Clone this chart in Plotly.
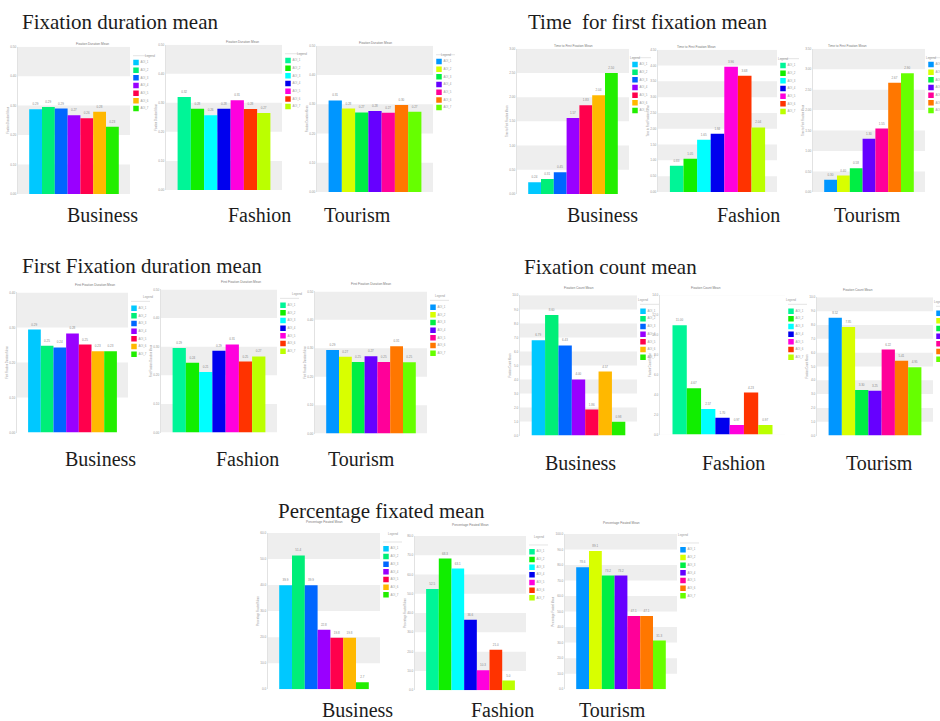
import plotly.graph_objects as go

W, H = 940, 721

# ---------------------------------------------------------------- data
categories = ["Business", "Fashion", "Tourism"]
series_names = ["AOI_1", "AOI_2", "AOI_3", "AOI_4", "AOI_5", "AOI_6", "AOI_7"]

colors_business = ["#00C8FF", "#00EE78", "#0066FF", "#9900FF", "#FF004C", "#FFB800", "#22EE00"]
colors_fashion = ["#00F597", "#11EE00", "#00FFFF", "#0000EE", "#FF00DD", "#FF3300", "#BBFF00"]
colors_tourism = ["#0096FF", "#D8FF00", "#00EE44", "#6600FF", "#FF0099", "#FF7700", "#66FF00"]

metric_titles = [
    "Fixation duration mean",
    "Time\u00a0 for first fixation mean",
    "First Fixation duration mean",
    "Fixation count mean",
    "Percentage fixated mean",
]
chart_titles = [
    "Fixation Duration Mean",
    "Time to First Fixation Mean",
    "First Fixation Duration Mean",
    "Fixation Count Mean",
    "Percentage Fixated Mean",
]

fix_dur_business = [0.288, 0.295, 0.290, 0.267, 0.257, 0.279, 0.228]
fix_dur_fashion = [0.320, 0.280, 0.257, 0.280, 0.309, 0.279, 0.265]
fix_dur_tourism = [0.313, 0.285, 0.272, 0.277, 0.271, 0.297, 0.274]

ttff_business = [0.24, 0.31, 0.45, 1.57, 1.83, 2.04, 2.50]
ttff_fashion = [0.83, 1.05, 1.65, 1.84, 3.96, 3.68, 2.04]
ttff_tourism = [0.30, 0.40, 0.58, 1.30, 1.55, 2.67, 2.90]

ffd_business = [0.294, 0.248, 0.243, 0.283, 0.251, 0.232, 0.232]
ffd_fashion = [0.295, 0.244, 0.212, 0.286, 0.308, 0.248, 0.266]
ffd_tourism = [0.294, 0.270, 0.252, 0.272, 0.252, 0.307, 0.251]

count_business = [6.79, 8.60, 6.43, 4.00, 1.86, 4.57, 0.98]
count_fashion = [11.00, 4.67, 2.57, 1.70, 0.97, 4.23, 0.97]
count_tourism = [8.52, 7.85, 3.30, 3.25, 6.22, 5.41, 4.95]

pct_business = [39.9, 51.4, 39.9, 22.8, 19.8, 19.8, 2.7]
pct_fashion = [52.5, 68.3, 63.1, 36.6, 10.3, 21.0, 5.0]
pct_tourism = [78.6, 89.1, 73.2, 73.2, 47.1, 47.1, 31.3]

# y-axis extent and tick step for each category
fix_dur_ymax = [0.5, 0.5, 0.5]
fix_dur_step = [0.1, 0.1, 0.1]
ttff_ymax = [3.0, 4.5, 3.5]
ttff_step = [0.5, 0.5, 0.5]
ffd_ymax = [0.4, 0.5, 0.5]
ffd_step = [0.1, 0.1, 0.1]
count_ymax = [10, 14, 10]
count_step = [1, 2, 1]
pct_ymax = [60, 80, 100]
pct_step = [10, 10, 10]

metric_values = [
    [fix_dur_business, fix_dur_fashion, fix_dur_tourism],
    [ttff_business, ttff_fashion, ttff_tourism],
    [ffd_business, ffd_fashion, ffd_tourism],
    [count_business, count_fashion, count_tourism],
    [pct_business, pct_fashion, pct_tourism],
]
metric_ymax = [fix_dur_ymax, ttff_ymax, ffd_ymax, count_ymax, pct_ymax]
metric_step = [fix_dur_step, ttff_step, ffd_step, count_step, pct_step]
metric_fmt = ["{:.2f}", "{:.2f}", "{:.2f}", "{:.2f}", "{:.1f}"]
category_colors = [colors_business, colors_fashion, colors_tourism]

# ---------------------------------------------------------------- layout (pixels)
# plot box of each small chart: (left, right, top, bottom)
boxes = [
    [(18, 130, 45, 193), (166, 282, 43, 189), (317, 433, 44, 191)],
    [(517, 629, 47, 193), (658, 777, 48, 191), (813, 925, 47, 191)],
    [(17, 128, 292, 433), (161, 277, 289, 433), (315, 427, 291, 434)],
    [(520, 637, 295, 436), (660, 785, 295, 435), (817, 933, 297, 436)],
    [(268, 380, 534, 691), (415, 526, 537, 692), (565, 677, 535, 691)],
]
# heading of each block (left x, centre y) and category captions (centre x, centre y)
headings = [(20, 20), (526, 20), (20, 265), (522, 266), (276, 512)]
captions = [
    [(102, 214), (259, 214), (357, 214)],
    [(602, 214), (748, 214), (867, 214)],
    [(100, 460), (247, 460), (361, 460)],
    [(580, 464), (733, 464), (879, 464)],
    [(357, 712), (503, 712), (612, 712)],
]


def fx(px):
    return px / W


def fy(py):
    return 1 - py / H


SMALL = "Liberation Sans"
SERIF = "Liberation Serif"
BAND = "#EEEEEE"

fig = go.Figure()
shapes, annotations, axes = [], [], {}

n = 0
for g in range(5):
    for c, cat in enumerate(categories):
        n += 1
        ka, kl = 2 * n - 1, 2 * n
        sa = "" if ka == 1 else str(ka)
        sl = str(kl)
        x0, x1, top, bot = boxes[g][c]
        vals = metric_values[g][c]
        cols = category_colors[c]
        ymax = metric_ymax[g][c]
        step = metric_step[g][c]
        nint = int(round(ymax / step))
        ticks = [round(i * step, 4) for i in range(nint + 1)]
        ticktext = [f"{t:.2f}" if step < 1 else f"{t:.1f}" for t in ticks]

        # bars: one trace per series, grouped in a single category
        for j in range(7):
            fig.add_trace(go.Bar(
                x=[cat], y=[vals[j]], name=series_names[j],
                marker=dict(color=cols[j], line=dict(width=0)),
                text=[metric_fmt[g].format(vals[j])], textposition="outside",
                textfont=dict(size=3, color="#8a8a8a", family=SMALL),
                cliponaxis=False, showlegend=False,
                xaxis="x" + sa, yaxis="y" + sa,
            ))

        axes["xaxis" + sa] = dict(
            domain=[fx(x0), fx(x1)], anchor="y" + sa,
            showticklabels=False, showgrid=False, zeroline=False, showline=False,
            fixedrange=True,
        )
        axes["yaxis" + sa] = dict(
            domain=[fy(bot), fy(top)], anchor="x" + sa, range=[0, ymax],
            tickvals=ticks, ticktext=ticktext,
            tickfont=dict(size=3.2, color="#9a9a9a", family=SMALL),
            showgrid=False, zeroline=False, showline=True,
            linecolor="#E2E2E2", linewidth=1, ticks="",
            title=dict(text=chart_titles[g], font=dict(size=2.6, color="#9a9a9a", family=SMALL),
                       standoff=1),
            fixedrange=True,
        )

        # alternating horizontal bands, grey from the top interval down
        for i in range(nint):
            if i % 2 == 0:
                shapes.append(dict(
                    type="rect", xref=f"x{sa} domain", yref="y" + sa,
                    x0=0, x1=1, y0=ticks[nint - i - 1], y1=ticks[nint - i],
                    fillcolor=BAND, line=dict(width=0), layer="below",
                ))

        # small chart title
        annotations.append(dict(
            x=fx((x0 + x1) / 2), y=fy(top - 7), xref="paper", yref="paper",
            text=chart_titles[g], showarrow=False,
            font=dict(size=3.2, color="#777777", family=SMALL),
        ))

        # legend: coloured squares with series names
        lx0 = x1 + 2
        lx1 = x1 + 26
        xr0 = -1.0
        xr1 = xr0 + (lx1 - lx0) / 4.0
        if lx1 > W:
            xr1 = xr0 + (W - lx0) / 4.0
            lx1 = W
        axes["xaxis" + sl] = dict(domain=[fx(lx0), fx(lx1)], range=[xr0, xr1],
                                  visible=False, anchor="y" + sl, fixedrange=True)
        axes["yaxis" + sl] = dict(domain=[fy(top + 66), fy(top + 12)], range=[6.5, -0.5],
                                  visible=False, anchor="x" + sl, fixedrange=True)
        fig.add_trace(go.Scatter(
            x=[0] * len(series_names), y=list(range(len(series_names))),
            mode="markers+text", text=series_names, textposition="middle right",
            textfont=dict(size=2.8, color="#9a9a9a", family=SMALL),
            marker=dict(symbol="square", size=5.5, color=cols, line=dict(width=0)),
            showlegend=False, xaxis="x" + sl, yaxis="y" + sl, cliponaxis=True,
        ))
        annotations.append(dict(
            x=fx(x1 + 13), y=fy(top + 5), xref="paper", yref="paper",
            text="Legend", showarrow=False,
            font=dict(size=3, color="#9a9a9a", family=SMALL),
        ))
        shapes.append(dict(
            type="line", xref="paper", yref="paper",
            x0=fx(x1 + 3), x1=fx(x1 + 22), y0=fy(top + 9), y1=fy(top + 9),
            line=dict(color="#DDDDDD", width=0.8),
        ))

        # category caption under the chart
        cx, cy = captions[g][c]
        annotations.append(dict(
            x=fx(cx), y=fy(cy), xref="paper", yref="paper", text=cat,
            showarrow=False, xanchor="center", yanchor="middle",
            font=dict(size=20, color="#1c1c1c", family=SERIF),
        ))

    hx, hy = headings[g]
    annotations.append(dict(
        x=fx(hx), y=fy(hy), xref="paper", yref="paper", text=metric_titles[g],
        showarrow=False, xanchor="left", yanchor="middle",
        font=dict(size=21, color="#1c1c1c", family=SERIF),
    ))

fig.update_layout(
    width=W, height=H, autosize=False,
    margin=dict(l=0, r=0, t=0, b=0, pad=0),
    paper_bgcolor="white", plot_bgcolor="white",
    barmode="group", bargap=0.2, bargroupgap=0,
    showlegend=False, shapes=shapes, annotations=annotations,
    **axes,
)

fig.write_html("out.html")
